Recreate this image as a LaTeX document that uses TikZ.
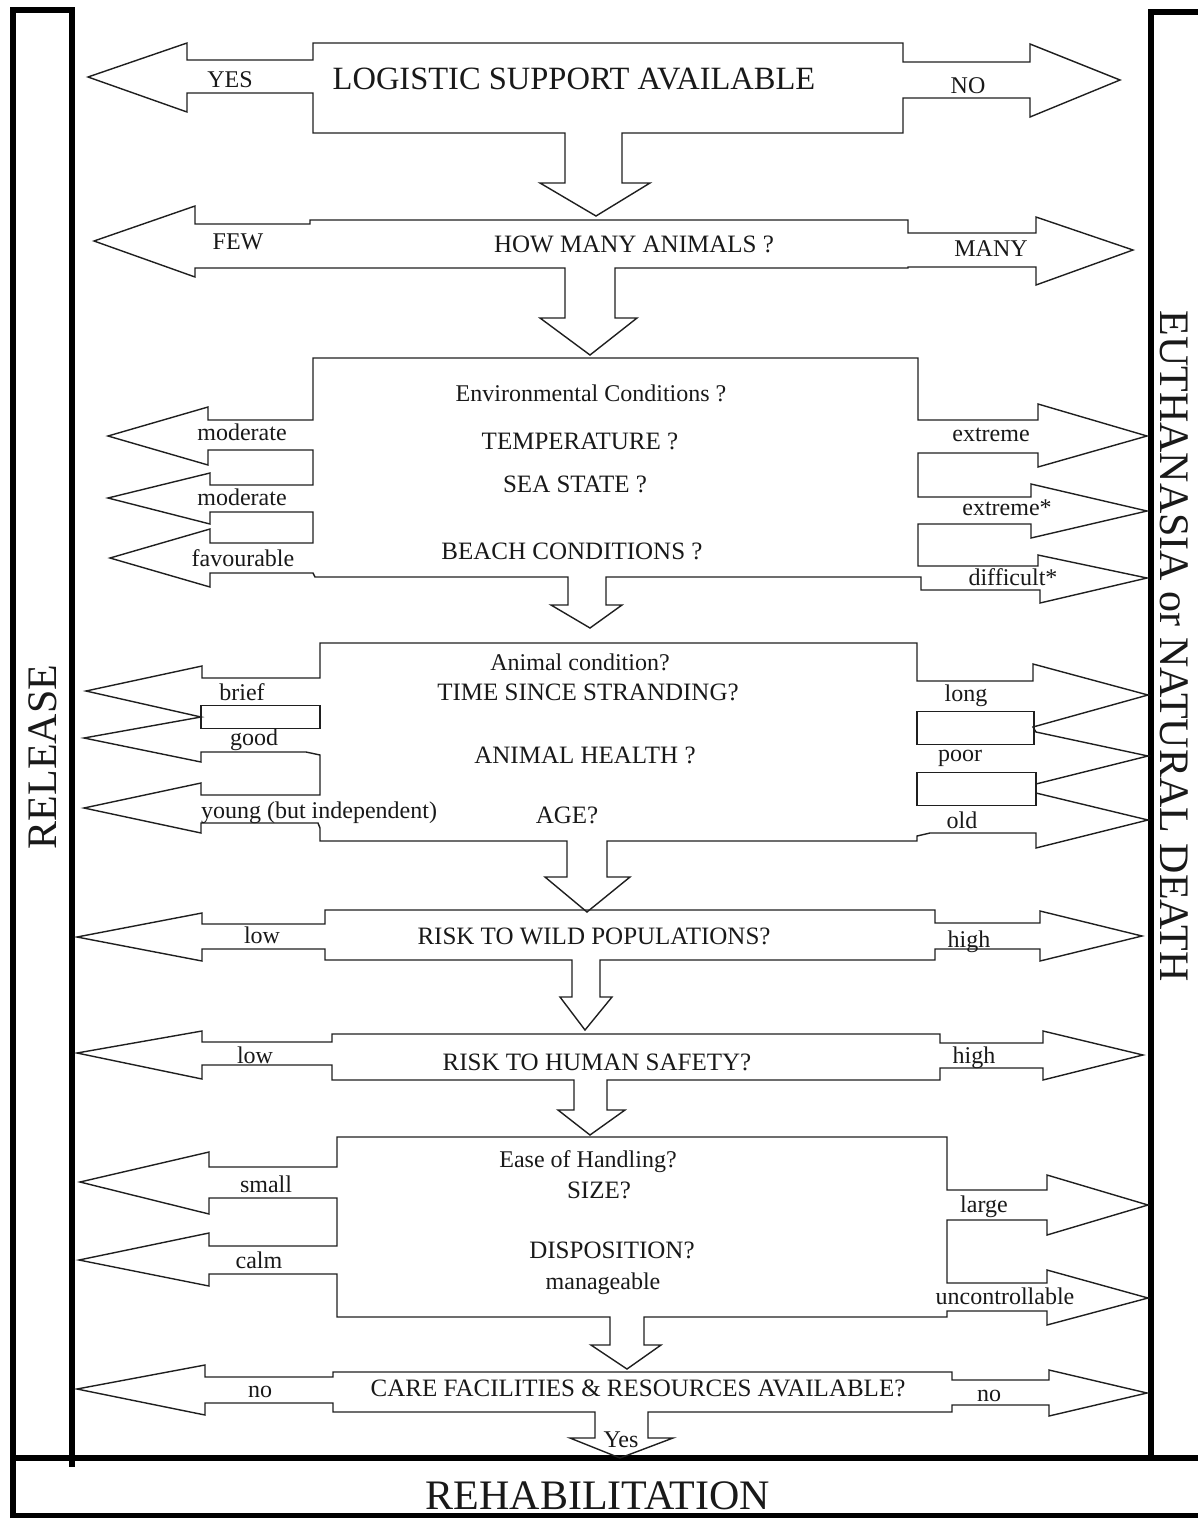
\documentclass[tikz,border=0pt]{standalone}
\usepackage{fontspec}
\setmainfont{Liberation Serif}
\begin{document}
\begin{tikzpicture}[x=1pt,y=-1pt,
  outline/.style={draw=black!88, line width=1.4pt, line join=miter},
  heavy/.style={draw=black, line width=6pt},
  q/.style={font=\fontsize{25}{30}\selectfont, text=black!90, inner sep=0pt, text height=0.68em, text depth=0pt, yshift=-5pt},
  lbl/.style={font=\fontsize{24}{28}\selectfont, text=black!90, inner sep=0pt, text height=0.68em, text depth=0pt, yshift=-5pt},
  title/.style={font=\fontsize{32.5}{38}\selectfont, text=black!90, inner sep=0pt, yshift=-1pt},
  big/.style={font=\fontsize{42}{48}\selectfont, text=black!90, inner sep=0pt}]

\useasboundingbox (0,0) rectangle (1198,1524);
\fill[white] (0,0) rectangle (1198,1524);

% ---------- outer frame: RELEASE column, EUTHANASIA column, REHABILITATION bar
\draw[heavy] (13,1518) -- (13,10) -- (72,10) -- (72,1467);
\draw[heavy] (1151,1458) -- (1151,12) -- (1198,12);
\draw[heavy] (13,1458) -- (1198,1458);
\draw[draw=black, line width=5pt] (13,1515) -- (1198,1515);

% ---------- 1: logistic support
\draw[outline] (313,43) -- (903,43) -- (903,62) -- (1030,62) -- (1030,44) -- (1120,80)
  -- (1030,117) -- (1030,98) -- (903,98) -- (903,133) -- (622,133) -- (622,183)
  -- (650,183) -- (596,216) -- (540,183) -- (565,183) -- (565,133) -- (313,133)
  -- (313,93) -- (187,93) -- (187,112) -- (88,77) -- (187,43) -- (187,60) -- (313,60) -- cycle;

% ---------- 2: number of animals
\draw[outline] (310,220) -- (908,220) -- (908,233) -- (1036,233) -- (1036,217) -- (1133,250)
  -- (1036,285) -- (1036,267) -- (908,267) -- (908,268) -- (615,268) -- (615,318)
  -- (637,318) -- (590,355) -- (540,318) -- (565,318) -- (565,268) -- (195,268)
  -- (195,277) -- (94,241) -- (195,206) -- (195,224) -- (310,224) -- cycle;

% ---------- 3: environmental conditions
\draw[outline] (313,358) -- (918,358) -- (918,420) -- (1038,420) -- (1038,404) -- (1147,436)
  -- (1038,467) -- (1038,453) -- (918,453) -- (918,497) -- (1031,497) -- (1031,484)
  -- (1147,511) -- (1031,538) -- (1031,524) -- (918,524) -- (918,566) -- (1038,566)
  -- (1038,555) -- (1147,578) -- (1040,603) -- (1040,590) -- (921,590) -- (921,577)
  -- (606,577) -- (606,605) -- (622,605) -- (590,628) -- (551,605) -- (568,605)
  -- (568,577) -- (315,577) -- (313,573) -- (210,573) -- (210,587) -- (110,558)
  -- (210,529) -- (210,543) -- (313,543) -- (313,512) -- (210,512) -- (210,524)
  -- (108,498) -- (210,473) -- (210,485) -- (313,485) -- (313,450) -- (208,450)
  -- (208,465) -- (108,436) -- (208,407) -- (208,420) -- (313,420) -- cycle;

% ---------- 4: animal condition
\draw[outline] (320,643) -- (917,643) -- (917,681) -- (1033,681) -- (1033,664) -- (1148,695)
  -- (1033,727) -- (1036,732) -- (1148,756) -- (1036,784) -- (1036,793) -- (1148,820)
  -- (1036,848) -- (1036,833) -- (930,833) -- (917,836) -- (917,841) -- (607,841)
  -- (607,877) -- (630,877) -- (587,912) -- (545,877) -- (567,877) -- (567,841)
  -- (320,841) -- (320,828) -- (318,823) -- (201,823) -- (201,833) -- (84,808)
  -- (201,783) -- (201,795) -- (320,795) -- (320,755) -- (306,752) -- (201,752)
  -- (201,762) -- (84,738) -- (201,717) -- (86,691) -- (202,666) -- (202,678)
  -- (320,678) -- cycle;
\draw[outline, line width=1.2pt] (201,705.5) rectangle (320,728.5);
\draw[outline, line width=1.2pt] (917,711.5) rectangle (1034,744.5);
\draw[outline, line width=1.2pt] (917,772.5) rectangle (1036,805.5);

% ---------- 5: risk to wild populations
\draw[outline] (325,910) -- (935,910) -- (935,923) -- (1040,923) -- (1040,911) -- (1142,936)
  -- (1040,961) -- (1040,949) -- (935,949) -- (935,960) -- (600,960) -- (600,997)
  -- (612,997) -- (585,1030) -- (560,997) -- (572,997) -- (572,960) -- (325,960)
  -- (325,949) -- (202,949) -- (202,961) -- (77,937) -- (202,913) -- (202,924)
  -- (325,924) -- cycle;

% ---------- 6: risk to human safety
\draw[outline] (332,1034) -- (940,1034) -- (940,1043) -- (1043,1043) -- (1043,1031) -- (1143,1055)
  -- (1043,1080) -- (1043,1068) -- (940,1068) -- (940,1080) -- (607,1080) -- (607,1110)
  -- (625,1110) -- (590,1135) -- (558,1110) -- (574,1110) -- (574,1080) -- (332,1080)
  -- (332,1065) -- (202,1065) -- (202,1079) -- (77,1053) -- (202,1031) -- (202,1042)
  -- (332,1042) -- cycle;

% ---------- 7: ease of handling
\draw[outline] (337,1137) -- (947,1137) -- (947,1190) -- (1047,1190) -- (1047,1175) -- (1148,1205)
  -- (1047,1235) -- (1047,1220) -- (947,1220) -- (947,1283) -- (1047,1283) -- (1047,1270)
  -- (1148,1298) -- (1047,1325) -- (1047,1311) -- (947,1311) -- (947,1317) -- (644,1317)
  -- (644,1345) -- (661,1345) -- (627,1369) -- (591,1345) -- (610,1345) -- (610,1317)
  -- (337,1317) -- (337,1274) -- (209,1274) -- (209,1286) -- (79,1260) -- (209,1233)
  -- (209,1246) -- (337,1246) -- (337,1198) -- (209,1198) -- (209,1214) -- (80,1182)
  -- (209,1152) -- (209,1167) -- (337,1167) -- cycle;

% ---------- 8: care facilities
\draw[outline] (333,1372) -- (952,1372) -- (952,1380) -- (1049,1380) -- (1049,1370) -- (1147,1393)
  -- (1049,1416) -- (1049,1405) -- (952,1405) -- (952,1412) -- (648,1412) -- (648,1438)
  -- (673,1438) -- (620,1458) -- (570,1438) -- (595,1438) -- (595,1412) -- (333,1412)
  -- (333,1403) -- (205,1403) -- (205,1415) -- (77,1389) -- (205,1365) -- (205,1377)
  -- (333,1377) -- cycle;

% ---------- texts
\node[title] (logistic) at (574,78) {LOGISTIC SUPPORT AVAILABLE};
\node[lbl] (yes1) at (230,79) {YES};
\node[lbl] (no1) at (968,85) {NO};

\node[q] (howmany) at (634,244) {HOW MANY ANIMALS ?};
\node[lbl] (few) at (238,241) {FEW};
\node[lbl] (many) at (991,248) {MANY};

\node[lbl] (envq) at (591,393) {Environmental Conditions ?};
\node[q] (temp) at (580,441) {TEMPERATURE ?};
\node[q] (sea) at (575,484) {SEA STATE ?};
\node[q] (beach) at (572,551) {BEACH CONDITIONS ?};
\node[lbl] (mod1) at (242,432) {moderate};
\node[lbl] (mod2) at (242,497) {moderate};
\node[lbl] (fav) at (243,558) {favourable};
\node[lbl] (ext1) at (991,433) {extreme};
\node[lbl] (ext2) at (1007,507) {extreme*};
\node[lbl] (diff) at (1013,577) {difficult*};

\node[lbl] (animq) at (580,662) {Animal condition?};
\node[q] (time) at (588,692) {TIME SINCE STRANDING?};
\node[q] (health) at (585,755) {ANIMAL HEALTH ?};
\node[q] (age) at (567,815) {AGE?};
\node[lbl] (brief) at (242,692) {brief};
\node[lbl] (good) at (254,737) {good};
\node[lbl] (young) at (319,810) {young (but independent)};
\node[lbl] (long) at (966,693) {long};
\node[lbl] (poor) at (960,753) {poor};
\node[lbl] (old) at (962,820) {old};

\node[q] (wild) at (594,936) {RISK TO WILD POPULATIONS?};
\node[lbl] (low1) at (262,935) {low};
\node[lbl] (high1) at (969,939) {high};

\node[q] (human) at (597,1062) {RISK TO HUMAN SAFETY?};
\node[lbl] (low2) at (255,1055) {low};
\node[lbl] (high2) at (974,1055) {high};

\node[lbl] (ease) at (588,1159) {Ease of Handling?};
\node[q] (size) at (599,1190) {SIZE?};
\node[q] (disp) at (612,1250) {DISPOSITION?};
\node[lbl] (manage) at (603,1281) {manageable};
\node[lbl] (small) at (266,1184) {small};
\node[lbl] (calm) at (259,1260) {calm};
\node[lbl] (large) at (984,1204) {large};
\node[lbl] (unc) at (1005,1296) {uncontrollable};

\node[q] (care) at (638,1388) {CARE FACILITIES \& RESOURCES AVAILABLE?};
\node[lbl] (no2) at (260,1389) {no};
\node[lbl] (no3) at (989,1393) {no};
\node[lbl] (yes2) at (621,1439) {Yes};

\node[big] (rehab) at (598,1496) {REHABILITATION};
\node[big, rotate=90] (release) at (43,757) {RELEASE};
\node[big, rotate=-90] (euth) at (1174,646) {EUTHANASIA or NATURAL DEATH};
\end{tikzpicture}
\end{document}
